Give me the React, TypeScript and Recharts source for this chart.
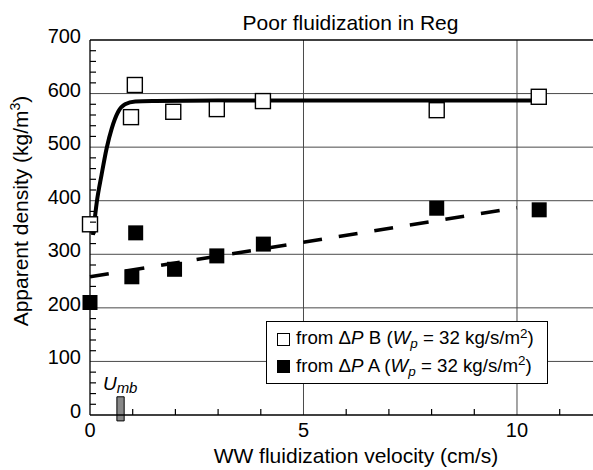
import React from 'react';
import {
  ComposedChart,
  Line,
  Scatter,
  XAxis,
  YAxis,
  CartesianGrid,
  ReferenceArea,
  ReferenceLine,
  Legend,
  Customized,
} from 'recharts';

const FONT = '"Liberation Sans", Arial, Helvetica, sans-serif';

// ---- data ----
const velocityB = [0, 0.96, 1.05, 1.95, 2.97, 4.05, 8.12, 10.51];
const densityB = [356, 556, 616, 566, 571, 586, 569, 594];

const velocityA = [0, 0.98, 1.07, 1.98, 2.97, 4.06, 8.12, 10.52];
const densityA = [210, 258, 340, 272, 297, 319, 386, 383];

const fitBVelocity = [0.07, 0.16, 0.27, 0.39, 0.51, 0.66, 0.82, 1.06, 1.52, 3, 6, 10.7];
const fitBDensity = [336, 398, 448, 498, 535, 566, 580, 585, 586, 587, 587, 587];

const fitAVelocity = [0, 10];
const fitADensity = [258, 387];

const umbVelocity = 0.72;

const xMajorTicks = [0, 5, 10];
const xMinorTicks = [1, 2, 3, 4, 6, 7, 8, 9, 11];
const yMajorTicks = [0, 100, 200, 300, 400, 500, 600, 700];
const yMinorTicks = [
  20, 40, 60, 80, 120, 140, 160, 180, 220, 240, 260, 280, 320, 340, 360, 380,
  420, 440, 460, 480, 520, 540, 560, 580, 620, 640, 660, 680,
];
const gridY = [100, 200, 300, 400, 500, 600];
const gridX = [5, 10];

const legendLabels = ['B', 'A'];

const title = 'Poor fluidization in Reg';
const xTitle = 'WW fluidization velocity (cm/s)';

// ---- build series ----
const zip = (xs: number[], ys: number[]) => xs.map((x, i) => ({ x, y: ys[i] }));
const pointsB = zip(velocityB, densityB);
const pointsA = zip(velocityA, densityA);
const fitB = zip(fitBVelocity, fitBDensity);
const fitA = zip(fitAVelocity, fitADensity);

const xAllTicks = [...xMajorTicks, ...xMinorTicks].sort((a, b) => a - b);
const yAllTicks = [...yMajorTicks, ...yMinorTicks].sort((a, b) => a - b);

const SQ = 15;

const OpenSquare = (props: any) => {
  const { cx, cy } = props;
  return (
    <rect x={cx - SQ / 2} y={cy - SQ / 2} width={SQ} height={SQ} fill="#fff" stroke="#000" strokeWidth={1.4} />
  );
};

const FilledSquare = (props: any) => {
  const { cx, cy } = props;
  return <rect x={cx - SQ / 2} y={cy - SQ / 2} width={SQ} height={SQ} fill="#000" stroke="none" />;
};

const renderXTick = (props: any) => {
  const { x, y, payload } = props;
  const v = payload.value;
  const major = xMajorTicks.includes(v);
  return (
    <g>
      {!major && <line x1={x} x2={x} y1={y} y2={y - 6} stroke="#000" strokeWidth={1.2} />}
      {major && (
        <text x={x} y={y + 22} textAnchor="middle" fontFamily={FONT} fontSize={20} fill="#000">
          {v}
        </text>
      )}
    </g>
  );
};

const renderYTick = (props: any) => {
  const { x, y, payload } = props;
  const v = payload.value;
  const major = yMajorTicks.includes(v);
  return (
    <g>
      {!major && <line x1={x} x2={x + 6} y1={y} y2={y} stroke="#000" strokeWidth={1.2} />}
      {major && (
        <text x={x - 9} y={y + 3} textAnchor="end" fontFamily={FONT} fontSize={20} fill="#000">
          {v}
        </text>
      )}
    </g>
  );
};

const renderUmbLabel = (props: any) => {
  const vb = props.viewBox || {};
  const x = vb.x ?? 0;
  const y = vb.y ?? 0;
  return (
    <text x={x - 14} y={y - 7} fontFamily={FONT} fontStyle="italic" fill="#000">
      <tspan fontSize={19}>U</tspan>
      <tspan fontSize={15} dy={3}>
        mb
      </tspan>
    </text>
  );
};

const subStyle: React.CSSProperties = { fontSize: '0.72em', position: 'relative', top: '0.32em' };
const supStyle: React.CSSProperties = { fontSize: '0.72em', position: 'relative', top: '-0.45em' };

const renderLegend = () => (
  <div
    style={{
      position: 'relative',
      width: 282,
      height: 63,
      boxSizing: 'border-box',
      border: '1px solid #000',
      background: '#fff',
      fontFamily: FONT,
      fontSize: 18.7,
      color: '#000',
    }}
  >
    {legendLabels.map((lab, i) => (
      <div
        key={lab}
        style={{
          position: 'absolute',
          left: 10,
          top: i === 0 ? 4 : 31.5,
          height: 26,
          lineHeight: '26px',
          whiteSpace: 'nowrap',
          display: 'flex',
          alignItems: 'center',
        }}
      >
        <span
          style={{
            display: 'inline-block',
            width: 13,
            height: 13,
            boxSizing: 'border-box',
            border: '1.3px solid #000',
            background: i === 0 ? '#fff' : '#000',
            marginRight: 6,
          }}
        />
        <span>
          from Δ<i>P</i> {lab} (<i>W</i>
          <span style={subStyle}>
            <i>p</i>
          </span>{' '}
          = 32 kg/s/m<span style={supStyle}>2</span>)
        </span>
      </div>
    ))}
  </div>
);

const Annotations = () => (
  <g fontFamily={FONT} fill="#000">
    <text x={350.5} y={30} textAnchor="middle" fontSize={21}>
      {title}
    </text>
    <text x={356} y={463} textAnchor="middle" fontSize={21}>
      {xTitle}
    </text>
    <text x={28} y={211} textAnchor="middle" fontSize={21} transform="rotate(-90 28 211)">
      <tspan>Apparent density (kg/m</tspan>
      <tspan fontSize={14} dy={-8}>
        3
      </tspan>
      <tspan dy={8}>)</tspan>
    </text>
  </g>
);

export default function App() {
  return (
    <div style={{ position: 'absolute', left: 0, top: 0, width: 593, height: 470, background: '#fff', overflow: 'hidden' }}>
      <ComposedChart width={593} height={470} margin={{ top: 40, right: 0, bottom: 0, left: 0 }}>
        <CartesianGrid
          horizontal
          vertical
          horizontalValues={gridY}
          verticalValues={gridX}
          stroke="#4a4a4a"
          strokeWidth={1}
        />
        <XAxis
          type="number"
          dataKey="x"
          domain={[0, 11.78]}
          ticks={xAllTicks}
          interval={0}
          height={55}
          axisLine={{ stroke: '#000', strokeWidth: 1.3 }}
          tickLine={false}
          tickSize={0}
          tickMargin={0}
          tick={renderXTick}
        />
        <YAxis
          type="number"
          dataKey="y"
          domain={[0, 700]}
          ticks={yAllTicks}
          interval={0}
          width={90}
          axisLine={{ stroke: '#000', strokeWidth: 1.3 }}
          tickLine={false}
          tickSize={0}
          tickMargin={0}
          tick={renderYTick}
        />
        <ReferenceLine y={700} stroke="#000" strokeWidth={1.3} ifOverflow="visible" />
        <Line
          data={fitB}
          dataKey="y"
          type="monotone"
          stroke="#000"
          strokeWidth={4}
          dot={false}
          activeDot={false}
          isAnimationActive={false}
        />
        <Line
          data={fitA}
          dataKey="y"
          type="linear"
          stroke="#000"
          strokeWidth={3.5}
          strokeDasharray="19 17"
          dot={false}
          activeDot={false}
          isAnimationActive={false}
        />
        <Scatter data={pointsB} dataKey="y" shape={OpenSquare} isAnimationActive={false} />
        <Scatter data={pointsA} dataKey="y" shape={FilledSquare} isAnimationActive={false} />
        <ReferenceArea
          x1={umbVelocity - 0.09}
          x2={umbVelocity + 0.08}
          y1={-11}
          y2={34}
          fill="#888"
          fillOpacity={1}
          stroke="#000"
          strokeWidth={1}
          ifOverflow="visible"
          label={renderUmbLabel}
        />
        <Legend
          layout="vertical"
          align="center"
          verticalAlign="middle"
          wrapperStyle={{ left: 266, top: 321, width: 282, height: 63 }}
          content={renderLegend}
        />
        <Customized component={<Annotations />} />
      </ComposedChart>
    </div>
  );
}
